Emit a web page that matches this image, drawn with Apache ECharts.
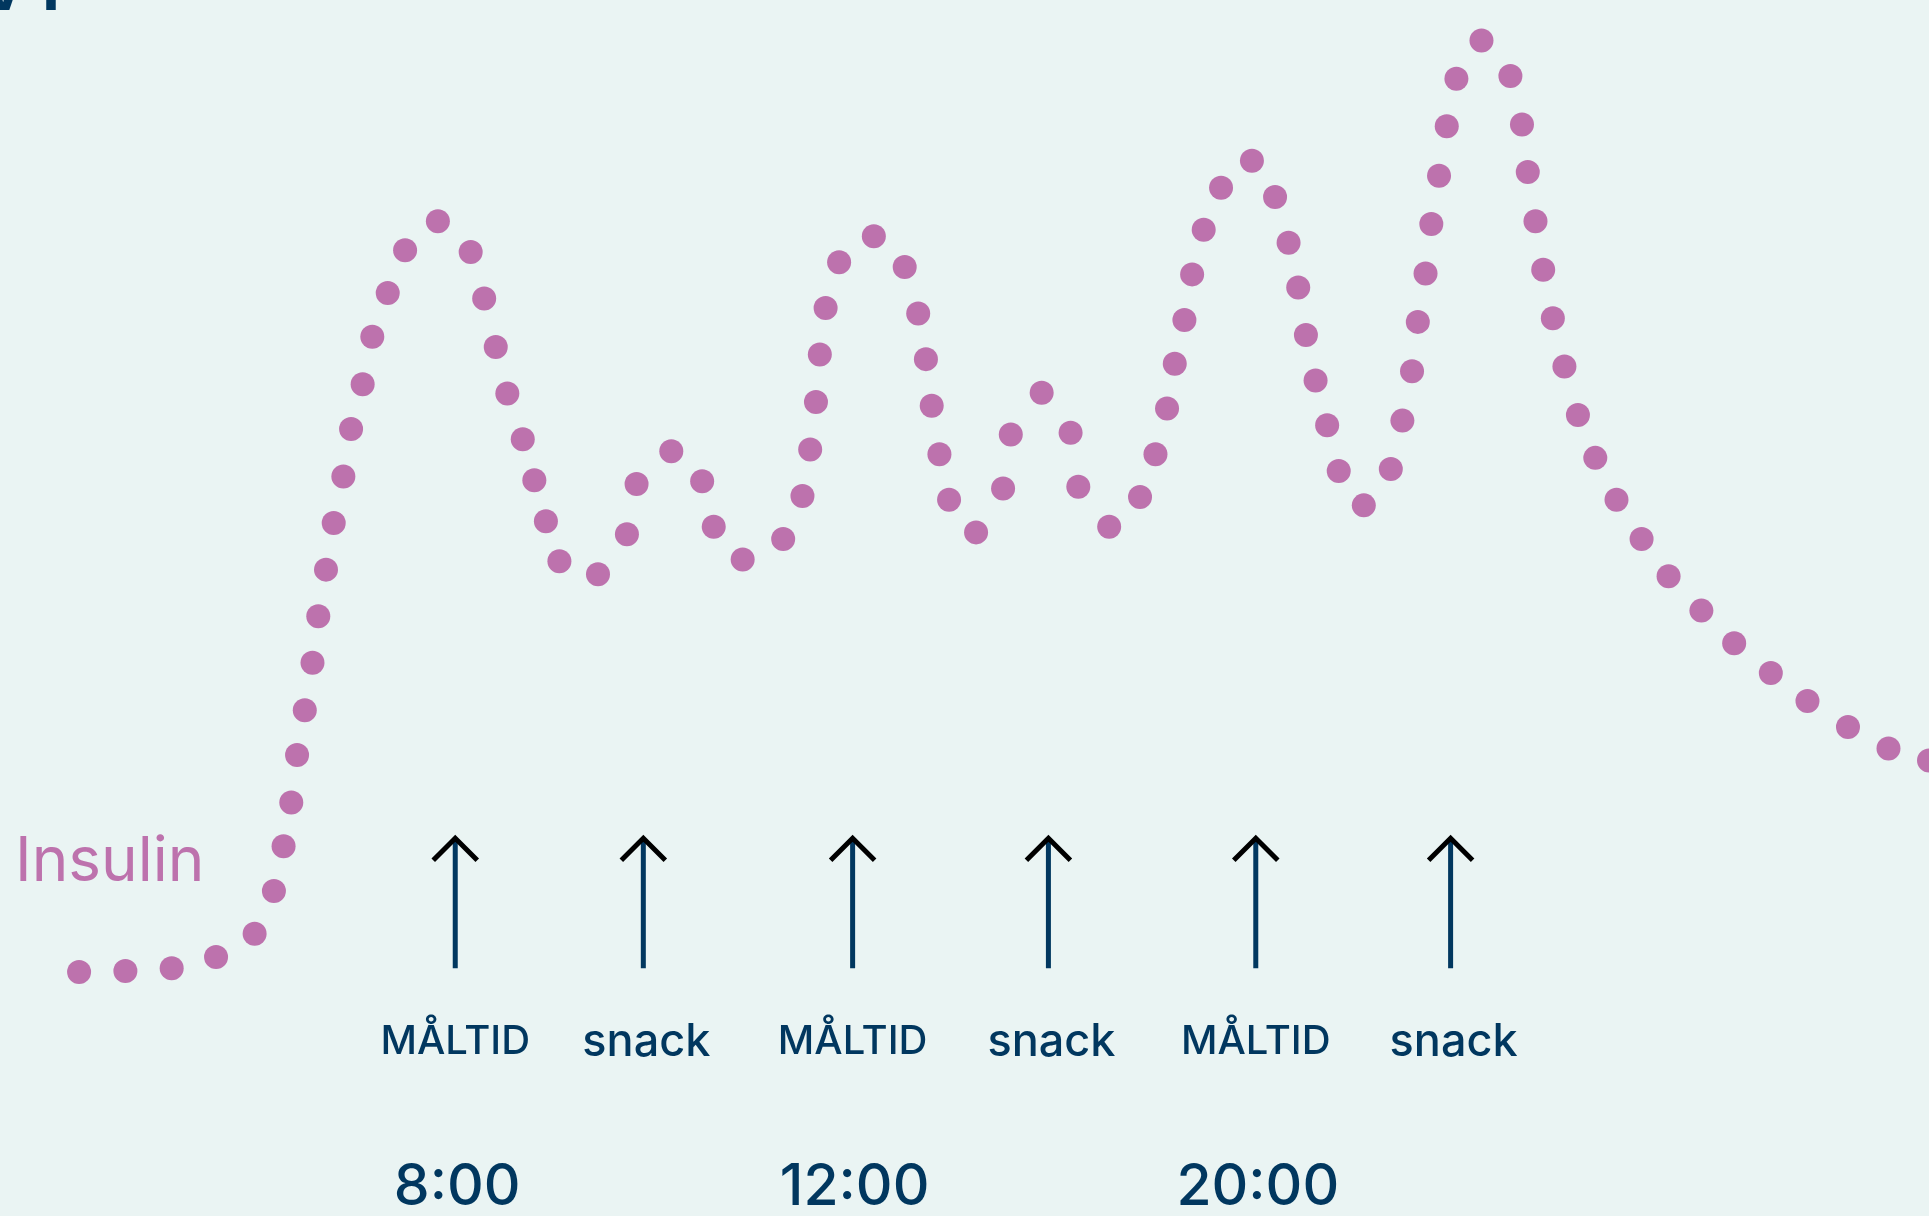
<!DOCTYPE html>
<html>
<head>
<meta charset="utf-8">
<style>
  html, body { margin: 0; padding: 0; background: #EAF4F3; }
  #chart { width: 1929px; height: 1216px; }
</style>
<script src="https://cdn.jsdelivr.net/npm/echarts@6/dist/echarts.min.js"></script>
</head>
<body>
<div id="chart"></div>
<script>
// Time position (0-100 across the day view) of each insulin dot
var dotTime = [4.1, 6.5, 8.9, 11.2, 13.2, 14.2, 14.7, 15.1, 15.4, 15.8, 16.2, 16.5, 16.9, 17.3, 17.8, 18.2, 18.8, 19.3, 20.1, 21.0,
  22.7, 24.4, 25.1, 25.7, 26.3, 27.1, 27.7, 28.3, 29.0, 31.0, 32.5, 33.0, 34.8, 36.4, 37.0, 38.5, 40.6, 41.6, 42.0, 42.3,
  42.5, 42.8, 43.5, 45.3, 46.9, 47.6, 48.0, 48.3, 48.7, 49.2, 50.6, 52.0, 52.4, 54.0, 55.5, 55.9, 57.5, 59.1, 59.9, 60.5,
  60.9, 61.4, 61.8, 62.4, 63.3, 64.9, 66.1, 66.8, 67.3, 67.7, 68.2, 68.8, 69.4, 70.7, 72.1, 72.7, 73.2, 73.5, 73.9, 74.2,
  74.6, 75.0, 75.5, 76.8, 78.3, 78.9, 79.2, 79.6, 80.0, 80.5, 81.1, 81.8, 82.7, 83.8, 85.1, 86.5, 88.2, 89.9, 91.8, 93.7,
  95.8, 97.9, 100.0];
// Insulin level (relative, peak = 100)
var insulinLevel = [0.0, 0.1, 0.4, 1.6, 4.1, 8.7, 13.5, 18.2, 23.3, 28.1, 33.2, 38.2, 43.2, 48.2, 53.2, 58.3, 63.1, 68.2, 72.9, 77.5,
  80.6, 77.3, 72.3, 67.1, 62.1, 57.2, 52.8, 48.4, 44.1, 42.7, 47.0, 52.4, 55.9, 52.7, 47.8, 44.3, 46.5, 51.1, 56.1, 61.2,
  66.3, 71.3, 76.2, 79.0, 75.7, 70.7, 65.8, 60.8, 55.6, 50.7, 47.2, 51.9, 57.7, 62.2, 57.9, 52.1, 47.8, 51.0, 55.6, 60.5,
  65.3, 70.0, 74.9, 79.7, 84.2, 87.1, 83.2, 78.3, 73.5, 68.4, 63.5, 58.7, 53.8, 50.1, 54.0, 59.2, 64.5, 69.8, 75.0, 80.3,
  85.5, 90.8, 95.9, 100.0, 96.2, 91.0, 85.9, 80.6, 75.4, 70.2, 65.0, 59.8, 55.2, 50.7, 46.5, 42.5, 38.8, 35.3, 32.1, 29.1,
  26.3, 24.0, 22.7];

// Eating events
var eventTime = [23.6, 33.35, 44.2, 54.35, 65.1, 75.2];
var eventLabel = ['MÅLTID', 'snack', 'MÅLTID', 'snack', 'MÅLTID', 'snack'];
var eventClock = ['8:00', '', '12:00', '', '20:00', ''];

var PINK = '#BD72AD';
var NAVY = '#01375F';
var FONT = 'Inter, "Noto Sans", sans-serif';

var dots = dotTime.map(function (t, i) { return [t, insulinLevel[i]]; });
var events = eventTime.map(function (t, i) { return [t, 0.4, eventLabel[i], eventClock[i]]; });

var chart = echarts.init(document.getElementById('chart'));
chart.setOption({
  backgroundColor: '#EAF4F3',
  animation: false,
  grid: { left: 0, right: 0, top: 40.6, bottom: 244 },
  xAxis: { type: 'value', min: 0, max: 100, show: false },
  yAxis: { type: 'value', min: 0, max: 100, show: false },
  graphic: [
    {
      type: 'text', left: 15, top: 831,
      style: { text: 'Insulin', fill: PINK, font: '400 62px ' + FONT }
    },
    {
      type: 'text', x: 60, y: 23,
      style: { text: 'V I', fill: NAVY, font: '700 64px ' + FONT, textAlign: 'right', textVerticalAlign: 'bottom' }
    }
  ],
  series: [
    {
      type: 'scatter',
      data: dots,
      symbol: 'circle',
      symbolSize: 24,
      itemStyle: { color: PINK, opacity: 1 },
      silent: true
    },
    {
      type: 'custom',
      data: events,
      silent: true,
      renderItem: function (params, api) {
        var base = api.coord([api.value(0), api.value(1)]);
        var x = base[0], yb = base[1];
        var topY = yb - 132;
        var label = eventLabel[params.dataIndex];
        var clock = eventClock[params.dataIndex];
        var isMeal = label === 'MÅLTID';
        var children = [
          { type: 'line', shape: { x1: x, y1: yb, x2: x, y2: topY + 3 },
            style: { stroke: NAVY, lineWidth: 5 } },
          { type: 'polyline', shape: { points: [[x - 22, topY + 24], [x, topY + 2], [x + 22, topY + 24]] },
            style: { stroke: '#000', lineWidth: 5, fill: null } },
          { type: 'text', x: x + (isMeal ? 0 : 3), y: yb + 74,
            style: { text: label, fill: NAVY, font: '500 ' + (isMeal ? 40 : 45) + 'px ' + FONT, textAlign: 'center', textVerticalAlign: 'middle' } }
        ];
        if (clock) {
          children.push({ type: 'text', x: x + 2, y: yb + 220,
            style: { text: clock, fill: NAVY, font: '500 57px ' + FONT, textAlign: 'center', textVerticalAlign: 'middle' } });
        }
        return { type: 'group', children: children };
      }
    }
  ]
});
</script>
</body>
</html>
